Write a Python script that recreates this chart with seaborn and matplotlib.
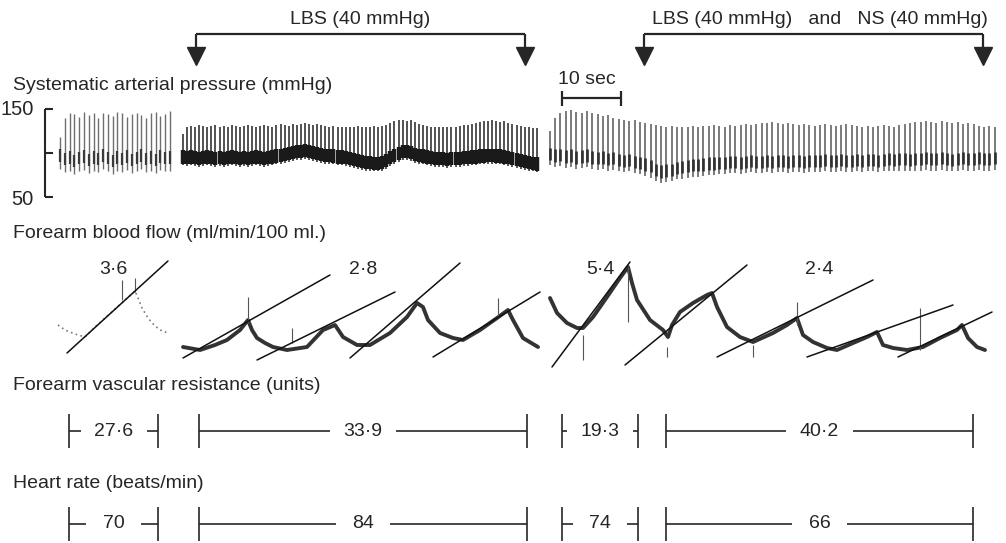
import matplotlib
matplotlib.use("Agg")
import matplotlib.pyplot as plt
import numpy as np
import pandas as pd
import seaborn as sns

# ---- arterial pressure record: one systolic / diastolic pair per beat (mmHg) ----
seg1_span = (10.2, 28.8)
seg1_sys = [118, 140, 146, 144, 141, 147, 143, 145, 140, 146, 144, 142,
            147, 145, 141, 144, 146, 143, 140, 145, 147, 142, 144, 148]
seg1_dia = [82, 78, 80, 76, 79, 81, 77, 80, 78, 82, 79, 76,
            80, 78, 81, 77, 79, 82, 78, 80, 77, 81, 79, 80]

seg2_span = (31.0, 91.0)
seg2_sys = [122, 130, 131, 130, 132, 131, 130, 131, 132, 130,
            131, 130, 132, 131, 130, 131, 132, 131, 130, 131,
            132, 131, 130, 132, 133, 132, 131, 133, 132, 133,
            134, 133, 132, 133, 132, 131, 130, 131, 130, 129,
            130, 129, 130, 131, 130, 129, 130, 131, 130, 131,
            132, 134, 136, 137, 137, 136, 137, 135, 133, 132,
            131, 130, 129, 130, 129, 130, 129, 130, 131, 132,
            132, 133, 134, 135, 136, 136, 137, 136, 135, 136,
            134, 133, 132, 131, 130, 129, 128, 128]
seg2_dia = [86, 85, 86, 85, 84, 85, 86, 85, 84, 85,
            84, 85, 86, 85, 84, 85, 84, 85, 86, 85,
            84, 85, 86, 87, 88, 89, 90, 91, 92, 92,
            93, 92, 91, 90, 89, 88, 88, 87, 86, 86,
            85, 84, 83, 82, 81, 80, 80, 79, 79, 80,
            82, 85, 88, 90, 92, 92, 91, 89, 88, 87,
            86, 85, 84, 84, 84, 83, 84, 84, 84, 85,
            85, 86, 86, 87, 87, 88, 88, 87, 87, 86,
            85, 84, 83, 82, 81, 80, 79, 78]

seg3_span = (93.2, 168.6)
seg3_sys = [125, 140, 146, 148, 149, 147, 145, 148, 146, 144,
            142, 143, 140, 139, 138, 136, 137, 135, 134, 133,
            132, 131, 130, 131, 130, 129, 130, 131, 130, 131,
            131, 132, 131, 130, 132, 131, 132, 133, 132, 133,
            134, 134, 135, 134, 133, 134, 133, 132, 133, 132,
            131, 132, 133, 132, 131, 132, 133, 132, 131, 130,
            131, 130, 131, 132, 131, 130, 132, 133, 134, 135,
            135, 136, 135, 134, 136, 135, 134, 135, 133, 134,
            133, 131, 130, 131, 130]
seg3_dia = [86, 84, 85, 83, 84, 82, 83, 84, 82, 81,
            82, 80, 81, 79, 78, 79, 77, 76, 74, 72,
            68, 66, 67, 68, 70, 71, 72, 73, 73, 74,
            75, 75, 76, 76, 77, 77, 76, 77, 78, 77,
            77, 78, 77, 78, 78, 77, 78, 78, 77, 78,
            78, 78, 79, 78, 78, 79, 78, 78, 79, 78,
            79, 79, 78, 79, 80, 79, 80, 80, 79, 80,
            80, 81, 80, 80, 81, 80, 79, 80, 81, 80,
            80, 81, 80, 80, 81]

# ---- plethysmograph (forearm volume) traces, time in s, height in mm ----
flowA_t = [9.83, 11.02, 12.71, 14.41, 16.10, 17.80, 19.49, 21.19, 22.88,
           23.39, 24.07, 25.08, 26.27, 27.46, 28.47]
flowA_v = [45, 40, 36, 33, 43, 52, 61, 70, 79, 72, 62, 52, 44, 39, 37]

flowB_t = [31.02, 33.90, 36.44, 38.47, 40.68, 42.03, 42.71, 43.56, 44.92, 46.27,
           48.64, 52.03, 54.75, 56.78, 58.14, 60.51, 62.71, 66.10, 68.98, 70.68,
           71.69, 72.54, 74.58, 76.78, 78.47, 81.36, 84.24, 86.10, 86.95, 88.64,
           91.19]
flowB_v = [23, 20, 25, 30, 40, 50, 40, 32, 27, 23,
           20, 23, 40, 45, 33, 25, 25, 37, 53, 67,
           63, 50, 37, 32, 30, 40, 52, 60, 50, 32,
           23]

flowC_t = [93.22, 94.41, 96.10, 97.80, 98.81, 100.51, 102.88, 105.08, 106.44, 107.12,
           107.97, 110.17, 112.37, 113.22, 113.90, 115.25, 117.46, 119.83, 120.68, 121.53,
           123.22, 125.42, 127.63, 131.02, 133.39, 135.08, 136.10, 137.80, 140.17, 141.86,
           144.58, 146.95, 148.64, 149.66, 151.36, 153.73, 156.44, 159.32, 162.20, 163.05,
           164.07, 165.59, 166.95]
flowC_v = [72, 57, 47, 42, 42, 53, 73, 92, 103, 87,
           70, 50, 40, 33, 45, 58, 67, 75, 77, 63,
           43, 33, 28, 37, 45, 52, 35, 28, 22, 20,
           27, 33, 38, 25, 22, 20, 23, 32, 40, 45,
           32, 23, 20]

# fitted slopes drawn over the venous-occlusion upstrokes
slope_id = ["A", "A", "B1", "B1", "B2", "B2", "B3", "B3", "B4", "B4",
            "C1", "C1", "C2", "C2", "C3", "C3", "C4", "C4", "C5", "C5"]
slope_t = [11.36, 28.47, 31.02, 55.93, 43.56, 66.95, 59.32, 77.97, 73.39, 91.53,
           93.56, 106.78, 105.93, 126.61, 121.53, 147.97, 136.78, 161.53, 152.20, 168.14]
slope_v = [17, 109, 12, 95, 10, 78, 12, 107, 13, 78,
           3, 108, 5, 105, 13, 90, 13, 65, 13, 58]

# cuff / event marks on the flow record
spike_t = [20.68, 22.88, 42.03, 49.49, 84.41, 98.81, 106.44, 113.05, 127.63, 135.08, 155.93]
spike_lo = [70, 78, 47, 27, 53, 10, 48, 13, 13, 45, 20]
spike_hi = [90, 92, 73, 42, 72, 35, 103, 23, 25, 68, 62]

# ---- periods and summary values ----
period_edges = [(11.7, 26.8), (33.7, 89.3), (95.3, 108.1), (112.9, 164.9)]
flow_values = ["3·6", "2·8", "5·4", "2·4"]
resistance_values = ["27·6", "33·9", "19·3", "40·2"]
heart_rate_values = ["70", "84", "74", "66"]

lbs_arrows = (33.2, 89.0)
lbs_ns_arrows = (109.2, 166.6)

T_MAX = 1006 / 5.9  # 10 s = 59 px on the record

sns.set_theme(style="white")
plt.rcParams['font.family'] = ['Liberation Sans', 'DejaVu Sans']
ink = "#262626"

fig = plt.figure(figsize=(10.06, 5.43), dpi=100)
fig.patch.set_facecolor("white")

ax = fig.add_axes([0, 0, 1, 1])
ax.set_xlim(0, T_MAX)
ax.set_ylim(543, 0)
ax.axis("off")

ax_p = fig.add_axes([0, (543 - 197) / 543, 1, 88 / 543])
ax_p.set_xlim(0, T_MAX)
ax_p.set_ylim(50, 150)
ax_p.axis("off")

ax_f = fig.add_axes([0, (543 - 370) / 543, 1, 120 / 543])
ax_f.set_xlim(0, T_MAX)
ax_f.set_ylim(0, 120)
ax_f.axis("off")

# pressure beats: (stroke colour, stroke width, band colour, band width, band from/to above diastolic)
styles = [("#6e6e6e", 1.0, "#3a3a3a", 1.6, 8, 22),
          ("#444444", 1.3, "#1a1a1a", 3.2, 2, 17),
          ("#5e5e5e", 1.15, "#303030", 1.9, 6, 20)]
for (span, sys_, dia_), (c_line, w_line, c_band, w_band, b0, b1) in zip(
        [(seg1_span, seg1_sys, seg1_dia), (seg2_span, seg2_sys, seg2_dia),
         (seg3_span, seg3_sys, seg3_dia)], styles):
    t = np.linspace(span[0], span[1], len(sys_))
    dia = np.array(dia_)
    ax_p.vlines(t, dia, sys_, color=c_line, lw=w_line)
    ax_p.vlines(t, dia + b0, np.minimum(dia + b1, sys_), color=c_band, lw=w_band)

# pressure calibration
ax_p.vlines(7.63, 50, 150, color=ink, lw=1.5, clip_on=False)
ax_p.hlines([50, 100, 150], 7.63, 8.98, color=ink, lw=1.5, clip_on=False)
ax_p.text(5.7, 149, "150", ha="right", va="center", fontsize=14.5, color=ink)
ax_p.text(5.7, 47, "50", ha="right", va="center", fontsize=14.5, color=ink)

# flow traces
dfA = pd.DataFrame({"t": flowA_t, "v": flowA_v})
sns.lineplot(data=dfA, x="t", y="v", ax=ax_f, sort=False, estimator=None,
             color="#7a7a7a", lw=1.2, linestyle=(0, (1, 2)))
df_flow = pd.concat([pd.DataFrame({"t": flowB_t, "v": flowB_v, "seg": "B"}),
                     pd.DataFrame({"t": flowC_t, "v": flowC_v, "seg": "C"})])
sns.lineplot(data=df_flow, x="t", y="v", units="seg", ax=ax_f, sort=False,
             estimator=None, color="#333333", lw=2.8)
ax_f.vlines(spike_t, spike_lo, spike_hi, color="#555555", lw=0.8)
df_slope = pd.DataFrame({"t": slope_t, "v": slope_v, "line": slope_id})
sns.lineplot(data=df_slope, x="t", y="v", units="line", ax=ax_f, sort=False,
             estimator=None, color="#111111", lw=1.1)
ax_f.set_xlabel("")
ax_f.set_ylabel("")

# section labels
fs = 14
for y, s in [(86, "Systematic arterial pressure (mmHg)"),
             (234, "Forearm blood flow (ml/min/100 ml.)"),
             (385, "Forearm vascular resistance (units)"),
             (483, "Heart rate (beats/min)")]:
    ax.text(2.2, y, s, ha="left", va="center", fontsize=fs, color=ink)

# intervention brackets at top
for (t0, t1), label, cx in [(lbs_arrows, "LBS (40 mmHg)", np.mean(lbs_arrows)),
                            (lbs_ns_arrows, "LBS (40 mmHg)   and   NS (40 mmHg)", 138.9)]:
    ax.hlines(34, t0, t1, color=ink, lw=1.6)
    ax.vlines([t0, t1], 34, 52, color=ink, lw=1.6)
    ax.plot([t0, t1], [56, 56], ls="none", marker="v", markersize=13, color=ink)
    ax.text(cx, 19, label, ha="center", va="center", fontsize=fs, color=ink)

# 10 s time bar
ax.hlines(98, 95.3, 105.3, color=ink, lw=1.6)
ax.vlines([95.3, 105.3], 91, 106, color=ink, lw=1.6)
ax.text(94.6, 79, "10 sec", ha="left", va="center", fontsize=fs, color=ink)

# flow values
for (t0, t1), s in zip(period_edges, flow_values):
    ax.text((t0 + t1) / 2, 270, s, ha="center", va="center", fontsize=fs, color=ink)

# resistance and heart-rate brackets
for y, labels in [(431, resistance_values), (524, heart_rate_values)]:
    for (t0, t1), s in zip(period_edges, labels):
        c = (t0 + t1) / 2
        gap = 4.6 + 0.5 * (len(s) - 2)
        ax.vlines([t0, t1], y - 17, y + 17, color=ink, lw=1.2)
        ax.hlines(y, t0, c - gap, color=ink, lw=1.2)
        ax.hlines(y, c + gap, t1, color=ink, lw=1.2)
        ax.text(c, y, s, ha="center", va="center", fontsize=fs, color=ink)

fig.savefig("out.png", dpi=100, facecolor="white")
